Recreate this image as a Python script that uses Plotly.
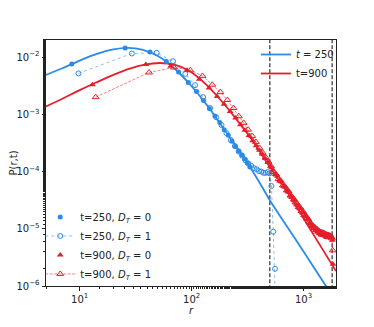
import plotly.graph_objects as go

# ── theory curves ────────────────────────────────────────────
r_th_250 = [5, 7, 10, 14, 20, 27, 36, 50, 70, 100, 140, 200, 280, 380, 500, 700, 1000, 1400, 1950]
p_th_250 = [4.9e-3, 6.4e-3, 8.7e-3, 1.13e-2, 1.37e-2, 1.455e-2, 1.36e-2, 1.05e-2, 6.4e-3, 3.1e-3,
            1.37e-3, 5.1e-4, 2.0e-4, 7.9e-5, 3.16e-5, 1.15e-5, 4.0e-6, 1.45e-6, 5.4e-7]

r_th_900 = [5, 7, 10, 14, 20, 28, 38, 52, 70, 95, 130, 180, 250, 350, 500, 750, 1170, 1950]
p_th_900 = [1.38e-3, 1.88e-3, 2.65e-3, 3.6e-3, 4.9e-3, 6.3e-3, 7.4e-3, 7.9e-3, 7.4e-3, 5.8e-3,
            3.55e-3, 1.82e-3, 8.3e-4, 3.5e-4, 1.2e-4, 3.8e-5, 9.2e-6, 1.82e-6]

# ── simulation, t=250 ────────────────────────────────────────
r_250_d0 = [8.5, 25.5, 42.5, 59.5, 76.5, 93.5, 110.5, 127.5, 144.5, 161.5,
            178.5, 195.5, 212.5, 229.5, 246.5, 263.5, 280.5, 297.5, 314.5, 331.5]
p_250_d0 = [7.6e-3, 1.45e-2, 1.23e-2, 8.4e-3, 5.5e-3, 3.6e-3, 2.5e-3, 1.74e-3, 1.26e-3, 9.4e-4,
            7.2e-4, 5.4e-4, 4.3e-4, 3.4e-4, 2.75e-4, 2.3e-4, 1.95e-4, 1.66e-4, 1.41e-4, 1.2e-4]

r_250_d1 = [9.75, 29.25, 48.75, 68.25, 87.75, 107.25, 126.75, 146.25, 165.75, 185.25,
            204.75, 224.25, 243.75, 263.25, 282.75, 302.25, 321.75, 341.25, 360.75, 380.25,
            399.75, 419.25, 438.75, 458.25, 477.75, 497.25, 516.75, 536.25, 555.75, 575.25]
p_250_d1 = [5.2e-3, 1.16e-2, 1.19e-2, 8.5e-3, 5.1e-3, 3.24e-3, 2.0e-3, 1.29e-3, 8.9e-4, 6.5e-4,
            4.7e-4, 3.55e-4, 2.8e-4, 2.24e-4, 1.9e-4, 1.58e-4, 1.38e-4, 1.26e-4, 1.15e-4, 1.1e-4,
            1.02e-4, 1.0e-4, 9.5e-5, 9.5e-5, 9.8e-5, 9.3e-5, 5.6e-5, 8.9e-6, 2.0e-6, 1.0e-7]

# ── simulation, t=900 ────────────────────────────────────────
r_900_d0 = [13, 39, 65, 91, 117, 143, 169, 195, 221, 247, 273, 299, 325, 351, 377, 403, 429, 455,
            481, 507, 533, 559, 585, 611, 637, 663, 689, 715, 741, 767, 793, 819, 845, 871, 897,
            923, 949, 975, 1001, 1027, 1053, 1079, 1105, 1131, 1157, 1183, 1209, 1235, 1261,
            1287, 1313, 1339, 1365, 1391, 1417, 1443, 1469, 1495, 1521, 1547, 1573, 1599, 1625,
            1651, 1677, 1703, 1729, 1755, 1781, 1807, 1833]
p_900_d0 = [3.3e-3, 7.45e-3, 6.95e-3, 5.9e-3, 4.1e-3, 2.9e-3, 2.05e-3, 1.5e-3, 1.12e-3, 8.6e-4,
            6.6e-4, 5.3e-4, 4.27e-4, 3.47e-4, 2.84e-4, 2.36e-4, 2.0e-4, 1.7e-4, 1.45e-4, 1.25e-4,
            1.07e-4, 8.9e-5, 8.3e-5, 6.9e-5, 6.6e-5, 5.6e-5, 5.4e-5, 4.6e-5, 4.4e-5, 3.8e-5,
            3.6e-5, 3.16e-5, 3.1e-5, 2.6e-5, 2.57e-5, 2.24e-5, 2.29e-5, 1.9e-5, 1.95e-5, 1.66e-5,
            1.7e-5, 1.45e-5, 1.48e-5, 1.26e-5, 1.29e-5, 1.12e-5, 1.15e-5, 1.02e-5, 1.07e-5,
            9.5e-6, 1.0e-5, 8.9e-6, 9.3e-6, 8.3e-6, 8.9e-6, 7.9e-6, 8.7e-6, 7.8e-6, 8.3e-6,
            7.6e-6, 8.1e-6, 7.4e-6, 7.9e-6, 7.2e-6, 7.8e-6, 7.1e-6, 7.6e-6, 7.2e-6, 7.4e-6,
            6.3e-6, 2.4e-6]

r_900_d1 = [13.9, 41.7, 69.5, 97.3, 125.1, 152.9, 180.7, 208.5, 236.3, 264.1, 291.9, 319.7,
            347.5, 375.3, 403.1, 430.9, 458.7, 486.5, 514.3, 542.1, 569.9, 597.7, 625.5, 653.3,
            681.1, 708.9, 736.7, 764.5, 792.3, 820.1, 847.9, 875.7, 903.5, 931.3, 959.1, 986.9,
            1014.7, 1042.5, 1070.3, 1098.1, 1125.9, 1153.7, 1181.5, 1209.3, 1237.1, 1264.9,
            1292.7, 1320.5, 1348.3, 1376.1, 1403.9, 1431.7, 1459.5, 1487.3, 1515.1, 1542.9,
            1570.7, 1598.5, 1626.3, 1654.1, 1681.9, 1709.7, 1737.5, 1765.3, 1793.1, 1820.9]
p_900_d1 = [2.0e-3, 5.4e-3, 6.6e-3, 5.9e-3, 4.7e-3, 3.3e-3, 2.45e-3, 1.78e-3, 1.29e-3, 9.3e-4,
            7.1e-4, 5.4e-4, 4.2e-4, 3.3e-4, 2.6e-4, 2.14e-4, 1.78e-4, 1.48e-4, 1.23e-4, 9.8e-5,
            8.9e-5, 7.4e-5, 6.9e-5, 5.75e-5, 5.5e-5, 4.7e-5, 4.5e-5, 3.8e-5, 3.6e-5, 3.3e-5,
            2.9e-5, 2.75e-5, 2.4e-5, 2.34e-5, 2.04e-5, 2.0e-5, 1.74e-5, 1.7e-5, 1.51e-5, 1.48e-5,
            1.32e-5, 1.26e-5, 1.15e-5, 1.12e-5, 1.02e-5, 1.05e-5, 9.5e-6, 9.8e-6, 8.9e-6, 9.1e-6,
            8.3e-6, 8.7e-6, 7.9e-6, 8.5e-6, 7.8e-6, 8.3e-6, 7.6e-6, 7.9e-6, 7.2e-6, 7.8e-6,
            7.1e-6, 7.6e-6, 7.2e-6, 7.1e-6, 6.8e-6, 4.2e-6]

# r = 2t cut-offs
r_cut = [500, 1800]

x_ticks = [10, 100, 1000]
x_ticktext = ["10<sup>1</sup>", "10<sup>2</sup>", "10<sup>3</sup>"]
y_ticks = [1e-6, 1e-5, 1e-4, 1e-3, 1e-2]
y_ticktext = ["10<sup>−6</sup>", "10<sup>−5</sup>", "10<sup>−4</sup>", "10<sup>−3</sup>", "10<sup>−2</sup>"]

BLUE = "#2a8be6"
BLUE_LT = "rgba(42,139,230,0.55)"
RED = "#e41f2b"
RED_LT = "rgba(228,31,43,0.55)"
FONT = "DejaVu Sans"

fig = go.Figure()

# cut-off lines
for rc in r_cut:
    fig.add_trace(go.Scatter(
        x=[rc, rc], y=[1e-7, 1], mode="lines",
        line=dict(color="black", width=1, dash="4px,2px"),
        showlegend=False, hoverinfo="skip",
    ))

# theory
fig.add_trace(go.Scatter(
    x=r_th_250, y=p_th_250, mode="lines", line=dict(color=BLUE, width=1.8, shape="spline"),
    name="<i>t</i> = 250", legend="legend",
))
fig.add_trace(go.Scatter(
    x=r_th_900, y=p_th_900, mode="lines", line=dict(color=RED, width=1.8, shape="spline"),
    name="t=900", legend="legend",
))

# data
fig.add_trace(go.Scatter(
    x=r_250_d0, y=p_250_d0, mode="markers",
    marker=dict(symbol="circle", size=5, color=BLUE),
    name="t=250, <i>D<sub>T</sub></i> = 0", legend="legend2",
))
fig.add_trace(go.Scatter(
    x=r_250_d1, y=p_250_d1, mode="lines+markers",
    line=dict(color=BLUE_LT, width=1, dash="dot"),
    marker=dict(symbol="circle-open", size=5, color=BLUE, line=dict(width=1, color=BLUE)),
    name="t=250, <i>D<sub>T</sub></i> = 1", legend="legend2",
))
fig.add_trace(go.Scatter(
    x=r_900_d0, y=p_900_d0, mode="markers",
    marker=dict(symbol="triangle-up", size=6, color=RED),
    name="t=900, <i>D<sub>T</sub></i> = 0", legend="legend2",
))
fig.add_trace(go.Scatter(
    x=r_900_d1, y=p_900_d1, mode="lines+markers",
    line=dict(color=RED_LT, width=1, dash="3px,1.5px"),
    marker=dict(symbol="triangle-up-open", size=6, color=RED, line=dict(width=1, color=RED)),
    name="t=900, <i>D<sub>T</sub></i> = 1", legend="legend2",
))

axis_common = dict(
    type="log",
    automargin=False,
    showgrid=False,
    zeroline=False,
    showline=True,
    linecolor="#222",
    linewidth=1,
    mirror=True,
    ticks="outside",
    ticklen=3.5,
    tickwidth=0.8,
    tickcolor="#222",
    minor=dict(ticks="outside", ticklen=2, tickwidth=0.6, tickcolor="#222", showgrid=False),
    tickfont=dict(family=FONT, size=10, color="#222"),
)

# page body adds 8px on top/left, margins compensate for it
fig.update_layout(
    width=374,
    height=327,
    paper_bgcolor="white",
    plot_bgcolor="white",
    font=dict(family=FONT, size=10, color="#222"),
    margin=dict(l=38, r=46, t=32, b=49),
    xaxis=dict(
        **axis_common,
        range=[0.699, 3.29],
        tickvals=x_ticks, ticktext=x_ticktext,
        title=dict(text="<i>r</i>", font=dict(family=FONT, size=10), standoff=0),
    ),
    yaxis=dict(
        **axis_common,
        range=[-6, -1.70],
        tickvals=y_ticks, ticktext=y_ticktext,
        title=dict(text="P(r,t)", font=dict(family=FONT, size=10), standoff=2),
    ),
    legend=dict(
        x=1.01, y=1.0, xanchor="right", yanchor="top",
        bgcolor="rgba(255,255,255,0)", font=dict(family=FONT, size=10),
        tracegroupgap=0, itemwidth=30,
    ),
    legend2=dict(
        x=-0.02, y=-0.01, xanchor="left", yanchor="bottom",
        bgcolor="rgba(255,255,255,0)", font=dict(family=FONT, size=10),
        tracegroupgap=0, itemwidth=30,
    ),
    showlegend=True,
)

fig.write_html("out.html")
